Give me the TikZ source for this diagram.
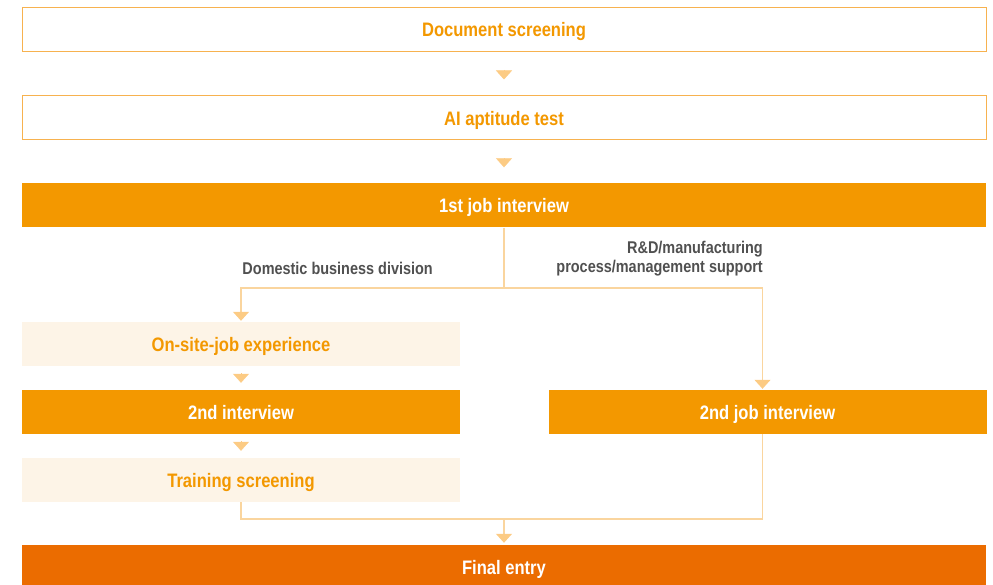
\documentclass[tikz,border=0pt]{standalone}
\usepackage{fontspec}
\setmainfont{Liberation Sans}[FakeStretch=0.85]
\usepackage{tikz}
\usetikzlibrary{arrows.meta}

\definecolor{orng}{HTML}{F39800}
\definecolor{dorng}{HTML}{EB6C00}
\definecolor{pale}{HTML}{FDF4E7}
\definecolor{rim}{HTML}{F7B24F}
\definecolor{tri}{HTML}{FCCB84}
\definecolor{wire}{HTML}{FAD59E}
\definecolor{txtgray}{HTML}{505050}

\begin{document}
\begin{tikzpicture}[x=1pt,y=-1pt,
    box/.style={minimum width=964pt,minimum height=44pt,inner sep=0pt,text height=18.5pt,text depth=3.5pt,font=\bfseries\fontsize{19.5}{21}\selectfont},
    blank/.style={box,draw=rim,line width=1pt,fill=white,text=orng},
    full/.style={box,fill=orng,text=white},
    half/.style={box,minimum width=438pt},
    soft/.style={half,fill=pale,text=orng},
    fullhalf/.style={half,fill=orng,text=white},
    lbl/.style={text=txtgray,font=\bfseries\fontsize{17}{19}\selectfont,inner sep=0pt,align=right},
    link/.style={draw=wire,line width=1.2pt},
    tip/.style={-{Triangle[width=16pt,length=9pt,color=tri]}},
    gap/.style={draw=tri,tip,shorten <=18pt,shorten >=16pt}]
	\useasboundingbox (0,0) rectangle (993,585);
	\node[blank] (doc) at (504,29.5) {Document screening};
	\node[blank] (ai) at (504,118) {AI aptitude test};
	\node[full] (iv1) at (504,205.5) {1st job interview};
	\node[soft] (site) at (241,344) {On-site-job experience};
	\node[fullhalf] (iv2) at (241,412) {2nd interview};
	\node[soft] (train) at (241,480) {Training screening};
	\node[fullhalf] (job2) at (767.5,412) {2nd job interview};
	\node[box,fill=dorng,text=white] (final) at (504,567) {Final entry};
	\node[lbl,anchor=east] (dom) at (433,268) {Domestic business division};
	\node[lbl,anchor=east] (rnd) at (763,259) {R\&D/manufacturing\\process/management support};
	\coordinate (fork) at (504,288);
	\coordinate (join) at (504,519);
	% straight steps
	\draw[gap] (doc) -- (ai);
	\draw[gap] (ai) -- (iv1);
	\draw[gap,shorten <=7pt,shorten >=7pt] (site) -- (iv2);
	\draw[gap,shorten <=7pt,shorten >=7pt] (iv2) -- (train);
	% split after the 1st interview
	\draw[link] (iv1) -- (fork);
	\draw[link,tip,shorten >=1pt] (fork) -| (site);
	\draw[link,tip,shorten >=1pt] (fork) -| ([xshift=-5pt]job2.north);
	% merge into the final entry
	\draw[link] (train) |- (join) -| ([xshift=-5pt]job2.south);
	\draw[link,tip,shorten >=2pt] (join) -- (final);
\end{tikzpicture}
\end{document}
